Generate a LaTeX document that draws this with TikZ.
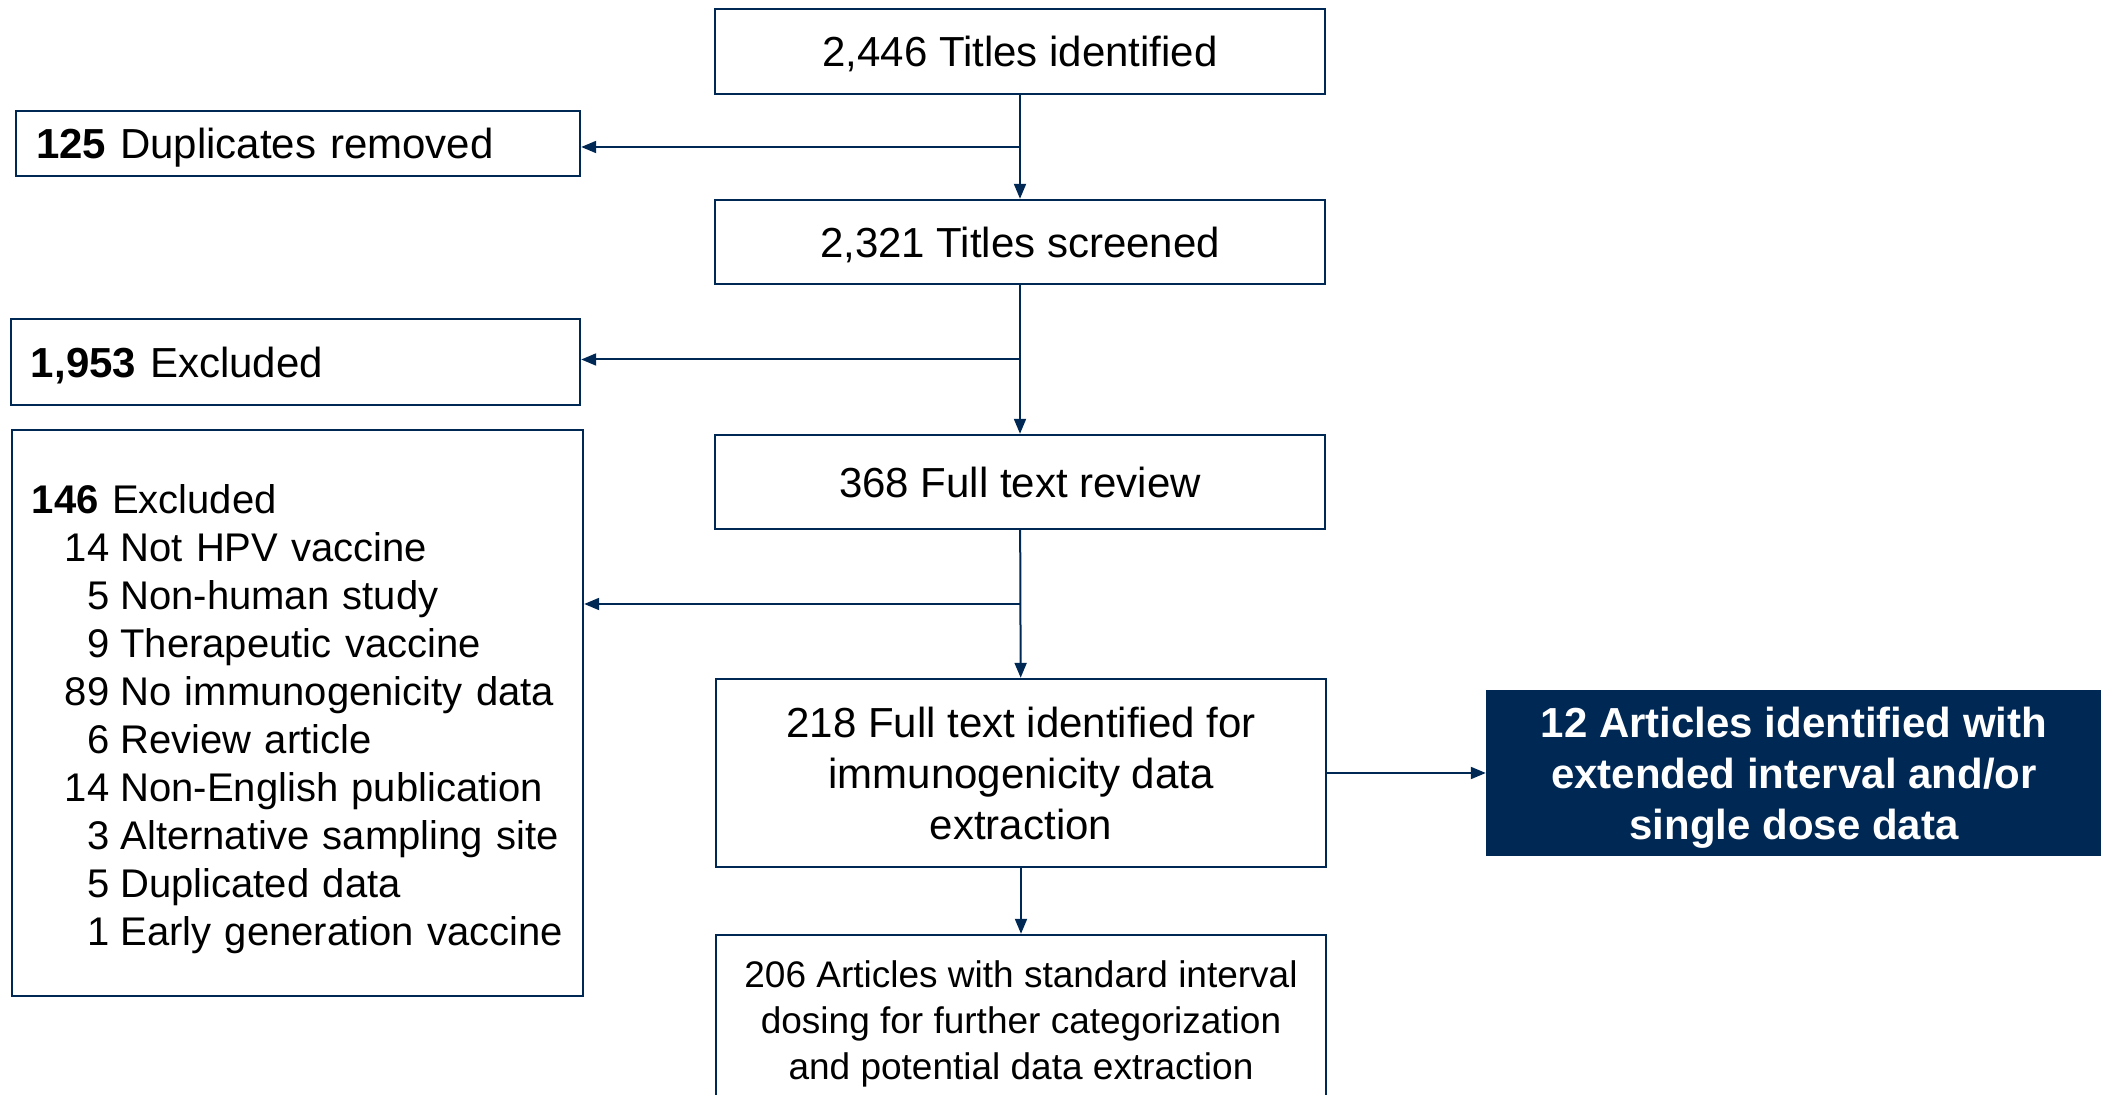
\documentclass[tikz,border=0pt]{standalone}
\usepackage{fontspec}
\setmainfont{Liberation Sans}
\usetikzlibrary{arrows.meta}
\definecolor{navy}{HTML}{002855}

\begin{document}
\begin{tikzpicture}[x=0.5pt,y=-0.5pt,
  box/.style={draw=navy,line width=1.2pt,inner sep=0pt,align=center,text depth=0pt,
    font=\fontsize{21}{25.5}\selectfont},
  sidebox/.style={box,inner xsep=10pt,align=left},
  arr/.style={draw=navy,line width=1pt,-{Triangle[length=7.5pt,width=6pt]}}]
  \useasboundingbox (0,0) rectangle (2101,1095);
  \clip (0,0) rectangle (2101,1095);
  \node (0) [box,minimum width=305pt,minimum height=42.5pt] at (1020,51.5) {2,446 Titles identified};
  \node (1) [sidebox,text width=262pt,minimum height=32.5pt] at (298,143.5) {\textbf{125} Duplicates removed};
  \node (2) [box,minimum width=305pt,minimum height=42pt] at (1020,242) {2,321 Titles screened};
  \node (3) [sidebox,text width=264.5pt,minimum height=43pt] at (295.5,362) {\textbf{1,953} Excluded};
  \node (4) [box,minimum width=305pt,minimum height=47pt] at (1020,482) {368 Full text review};
  \node (5) [sidebox,text width=265.5pt,minimum height=283pt,font=\fontsize{20}{24}\selectfont] at (297.5,713) {%
    \begin{tabular}[b]{@{\hspace{16.5pt}}r@{\hspace{5.5pt}}l@{}}
      \multicolumn{2}{@{}l@{}}{\textbf{146} Excluded}\\
      14 & Not HPV vaccine\\
      5 & Non-human study\\
      9 & Therapeutic vaccine\\
      89 & No immunogenicity data\\
      6 & Review article\\
      14 & Non-English publication\\
      3 & Alternative sampling site\\
      5 & Duplicated data\\
      1 & Early generation vaccine
    \end{tabular}};
  \node (6) [box,minimum width=305pt,minimum height=94pt] at (1021,773) {218 Full text identified for\\immunogenicity data\\extraction};
  \node (7) [box,fill=navy,text=white,minimum width=307pt,minimum height=81.5pt,font=\fontsize{21}{25.5}\selectfont\bfseries] at (1794,773) {12 Articles identified with\\extended interval and/or\\single dose data};
  \node (8) [box,minimum width=305pt,minimum height=85pt,font=\fontsize{18.5}{22.8}\selectfont] at (1021,1020) {206 Articles with standard interval\\dosing for further categorization\\and potential data extraction};
  \draw[arr] (0) -- coordinate (a) (2);
  \draw[arr] (a) -- (a -| 1.east);
  \draw[arr] (2) -- coordinate (b) (4);
  \draw[arr] (b) -- (b -| 3.east);
  \draw[arr] (4) -- coordinate (c) (6);
  \draw[arr] (c) -- (c -| 5.east);
  \draw[arr] (6) -- (7);
  \draw[arr] (6) -- (8);
\end{tikzpicture}
\end{document}
